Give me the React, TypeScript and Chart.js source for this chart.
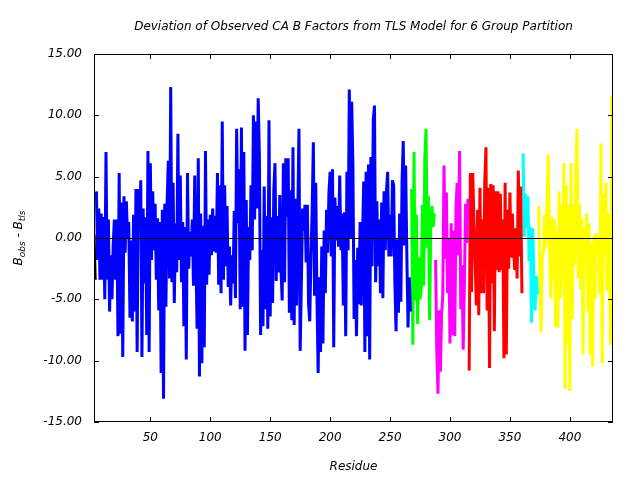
import React, { useEffect, useRef } from "react";
import { Chart, registerables } from "chart.js";

Chart.register(...registerables);

// ---------- text ----------
const titleText = "Deviation of Observed CA B Factors from TLS Model for 6 Group Partition";
const xTitleText = "Residue";
const yTitleParts = [
  { text: "B", sub: false },
  { text: "obs", sub: true },
  { text: " - B", sub: false },
  { text: "tls", sub: true },
];

// ---------- axes ----------
const xMin = 3;
const xMax = 436;
const xTickValues = [50, 100, 150, 200, 250, 300, 350, 400];
const yMin = -15;
const yMax = 15;
const yTickValues = [-15, -10, -5, 0, 5, 10, 15];

// ---------- data (B_obs - B_tls per residue, one array per TLS group) ----------
const blackStart = 3;
const blackValues = [0.3, -3.4];

const blueStart = 5;
const blueValues = [
  // 5-45
  3.8, -1.8, 2.4, -3.4, 2.0, -3.4, 1.7, -5.0, 7.0, -3.4,
  1.5, -6.0, -1.4, -5.0, -0.6, 1.5, -3.4, 1.5, -8.0, 5.3,
  -7.8, 2.9, -9.7, 3.4, -1.2, 3.0, 0.0, 1.3, -6.5, -0.2,
  -6.8, 1.9, -6.0, 4.0, -9.3, 4.0, 1.2, 4.7, -9.7, 2.4,
  -3.7,
  // 46-88
  1.7, -7.9, 7.1, -9.3, 6.1, -1.8, 3.8, -1.0, 2.8, -3.4,
  1.6, -5.9, 1.3, -11.0, 2.3, -13.1, 2.8, -5.6, 2.9, 6.3,
  -3.3, 12.3, -3.6, 4.5, -5.3, 1.2, -2.8, 8.5, -1.8, 5.1,
  -3.6, 1.3, -7.2, 0.9, -9.9, 5.3, -2.5, 0.5, -1.5, 1.5,
  -3.9, 5.1, -1.2,
  // 89-131
  -7.4, 6.5, -11.3, 2.0, -10.2, 1.0, -8.9, 7.1, -3.8, 1.5,
  -3.0, 1.9, -1.4, 2.4, -1.1, 1.8, -1.2, 5.3, -3.8, 4.3,
  -4.5, 9.5, -3.4, 4.3, -2.3, 2.6, -4.0, -0.7, -5.5, -1.4,
  -3.7, 2.2, -4.9, 8.9, 1.2, 5.6, -5.8, 9.0, -5.6, 7.0,
  -9.2, 3.1, -7.9,
  // 132-175
  0.9, -1.8, 4.3, -1.0, 10.0, 1.5, 9.5, 2.4, 11.4, 6.6,
  -7.9, -1.0, -7.2, 4.2, -5.8, 1.8, -7.4, 9.6, -6.4, 1.7,
  -5.3, 3.9, 6.1, -3.5, 1.8, -2.8, 3.5, -2.5, -5.1, 6.1,
  -3.6, 6.5, 1.7, 6.5, -6.1, 3.9, -6.7, 7.4, -7.1, 3.2,
  -5.5, 1.8, 8.9, -9.2,
  // 176-218
  -3.7, 2.4, 0.6, 2.7, -2.0, 2.7, -5.4, -6.8, -1.5, 2.2,
  7.8, -4.7, 4.5, -4.7, -11.0, -3.2, -9.3, -0.7, -8.6, 0.6,
  -4.5, 2.3, -1.2, 3.7, 5.4, -1.5, 5.6, -8.9, 3.3, -0.2,
  2.6, -0.7, 5.1, -1.0, 2.0, -5.5, 2.1, -8.0, 5.4, -1.0,
  12.1, 0.0, 11.1,
  // 219-261
  6.0, -6.6, -1.8, -8.0, -0.8, -5.4, 1.3, -5.5, -0.2, 4.6,
  -9.3, 5.4, -8.0, 6.0, -9.9, 6.6, -2.3, 9.6, 10.8, -3.6,
  3.0, -2.3, 1.5, -4.5, 2.9, -4.9, 3.8, -1.0, 3.8, 5.4,
  -1.5, 1.9, -1.5, 4.7, 4.3, -3.5, -7.6, -0.1, -6.1, 2.0,
  -5.2, 4.6, 7.9,
  // 262-267
  -0.6, 5.9, -1.3, -7.3, -3.2, -6.0,
];

const greenStart = 268;
const greenValues = [
  4.0, -8.7, 7.0, -5.1, 1.9, -7.0, -1.6, -5.0, -4.1, 2.7,
  -3.9, 6.5, 8.9, -0.8, 3.4, -6.7, 1.5, 2.6, 0.9, 2.0,
];

const magentaStart = 288;
const magentaValues = [
  -1.8, -9.3, -12.7, -5.9, -10.9, -6.2, -4.7, 5.9, -1.7, 3.7,
  -4.5, 0.0, -8.6, 1.2, -7.9, 0.6, -8.0, 2.5, 4.5, -1.4,
  7.1, -5.8, -2.2, -9.1, -3.9, 2.8, -0.4, 3.2,
];

const redStart = 316;
const redValues = [
  -10.8, 5.3, -4.4, 5.3, 1.2, -2.1, -5.5, 2.3, -6.3, 4.1,
  -4.5, 1.5, -4.5, 4.5, 7.4, -5.9, 4.1, -10.6, 4.4, -3.7,
  4.3, -7.6, 3.8, -2.6, 3.8, -2.8, 3.6, -2.6, 1.5, -9.8,
  4.5, -9.5, 2.3, -2.5, 3.7, -1.6, 2.0, -0.7, -2.6, 0.8,
  -3.3, 5.5, -1.5, 4.2, -4.5,
];

const cyanStart = 361;
const cyanValues = [6.9, 0.1, 3.6, 0.8, 3.4, -1.9, 0.9, -6.9, 0.8, -3.0, -5.9, -3.1, -4.6];

const yellowStart = 374;
const yellowValues = [
  2.6, -3.4, -7.7, -1.4, -1.3, 1.9, -0.8, 3.1, 6.8, -0.4,
  -4.9, 1.7, -3.4, 1.5, -7.3, 0.6, -7.3, 3.8, -4.9, 2.7,
  -3.9, 6.1, -12.3, 4.3, -8.7, 2.7, -12.5, 6.1, -6.6, 2.7,
  -2.2, 5.6, 8.9, -3.3, 2.8, -4.2, 1.6, -9.5, 0.8, -2.2,
  2.0, -6.0, 1.2, -9.5, -0.4, -10.5, 0.2, -5.0, 0.4, -1.4,
  0.1, -4.6, 7.7, -10.2, 3.6, -1.2, 4.5, -4.3, 2.0, -2.5,
  -8.7, 11.6,
];

const groups = [
  { start: blackStart, values: blackValues, color: "#000000" },
  { start: blueStart, values: blueValues, color: "#0000ff" },
  { start: greenStart, values: greenValues, color: "#00ff00" },
  { start: magentaStart, values: magentaValues, color: "#ff00ff" },
  { start: redStart, values: redValues, color: "#ff0000" },
  { start: cyanStart, values: cyanValues, color: "#00ffff" },
  { start: yellowStart, values: yellowValues, color: "#ffff00" },
];

const FONT = "'DejaVu Sans', 'Liberation Sans', sans-serif";

Chart.defaults.font.family = FONT;
Chart.defaults.font.size = 12;
Chart.defaults.font.style = "italic";
Chart.defaults.color = "#000";

const framePlugin = {
  id: "frame",
  afterDatasetsDraw(chart: any) {
    const { ctx, chartArea, scales } = chart;
    const { left, right, top, bottom } = chartArea;
    const xs = scales.x;
    const ys = scales.y;
    ctx.save();
    ctx.strokeStyle = "#000";
    ctx.lineWidth = 1;
    // zero line
    const y0 = Math.round(ys.getPixelForValue(0)) + 0.5;
    ctx.beginPath();
    ctx.moveTo(left, y0);
    ctx.lineTo(right, y0);
    ctx.stroke();
    // border
    ctx.strokeRect(left + 0.5, top + 0.5, right - left - 1, bottom - top - 1);
    // inward ticks
    const tl = 5;
    ctx.beginPath();
    for (const v of xTickValues) {
      const px = Math.round(xs.getPixelForValue(v)) + 0.5;
      ctx.moveTo(px, bottom);
      ctx.lineTo(px, bottom - tl);
      ctx.moveTo(px, top);
      ctx.lineTo(px, top + tl);
    }
    for (const v of yTickValues) {
      const py = Math.round(ys.getPixelForValue(v)) + 0.5;
      ctx.moveTo(left, py);
      ctx.lineTo(left + tl, py);
      ctx.moveTo(right, py);
      ctx.lineTo(right - tl, py);
    }
    ctx.stroke();
    ctx.restore();
  },
  afterDraw(chart: any) {
    const { ctx, chartArea } = chart;
    const cx = (chartArea.left + chartArea.right) / 2;
    const cy = (chartArea.top + chartArea.bottom) / 2;
    ctx.save();
    ctx.fillStyle = "#000";
    ctx.textBaseline = "middle";
    ctx.textAlign = "center";
    ctx.font = `italic 12px ${FONT}`;
    ctx.fillText(titleText, cx, 27);
    ctx.fillText(xTitleText, cx, 467);

    // rotated y title with subscripts
    const mainFont = `italic 12px ${FONT}`;
    const subFont = `italic 9px ${FONT}`;
    let total = 0;
    const widths = yTitleParts.map((p) => {
      ctx.font = p.sub ? subFont : mainFont;
      const w = ctx.measureText(p.text).width;
      total += w;
      return w;
    });
    ctx.translate(18, cy);
    ctx.rotate(-Math.PI / 2);
    ctx.textAlign = "left";
    ctx.textBaseline = "alphabetic";
    let x = -total / 2;
    yTitleParts.forEach((p, i) => {
      ctx.font = p.sub ? subFont : mainFont;
      ctx.fillText(p.text, x, p.sub ? 7 : 4);
      x += widths[i];
    });
    ctx.restore();
  },
};

export default function App() {
  const ref = useRef<HTMLCanvasElement>(null);

  useEffect(() => {
    if (!ref.current) return;
    const datasets = groups.map((g) => ({
      data: g.values.map((v, i) => ({ x: g.start + i, y: v })),
      borderColor: g.color,
      backgroundColor: g.color,
      borderWidth: 3,
      borderJoinStyle: "bevel" as const,
      borderCapStyle: "butt" as const,
      pointRadius: 0,
      tension: 0,
      fill: false,
    }));
    const tickFont = { family: FONT, size: 12, style: "italic" as const };
    const chart = new Chart(ref.current, {
      type: "line",
      data: { datasets },
      options: {
        animation: false,
        responsive: false,
        devicePixelRatio: 1,
        events: [],
        layout: { padding: { top: 54, right: 27, left: 0, bottom: 0 } },
        plugins: {
          legend: { display: false },
          title: { display: false },
          tooltip: { enabled: false },
        },
        scales: {
          x: {
            type: "linear",
            min: xMin,
            max: xMax,
            grid: { display: false, drawTicks: false },
            border: { display: false },
            ticks: { font: tickFont, color: "#000", padding: 9, maxRotation: 0, autoSkip: false },
            afterBuildTicks: (s: any) => {
              s.ticks = xTickValues.map((v) => ({ value: v }));
            },
            afterFit: (s: any) => {
              s.height = 58;
            },
          },
          y: {
            type: "linear",
            min: yMin,
            max: yMax,
            grid: { display: false, drawTicks: false },
            border: { display: false },
            ticks: {
              font: tickFont,
              color: "#000",
              padding: 12,
              callback: (v: any) => Number(v).toFixed(2),
            },
            afterBuildTicks: (s: any) => {
              s.ticks = yTickValues.map((v) => ({ value: v }));
            },
            afterFit: (s: any) => {
              s.width = 94;
            },
          },
        },
      },
      plugins: [framePlugin],
    });
    return () => chart.destroy();
  }, []);

  return (
    <div style={{ position: "fixed", left: 0, top: 0, width: 640, height: 480, background: "#fff" }}>
      <canvas ref={ref} width={640} height={480} />
    </div>
  );
}
